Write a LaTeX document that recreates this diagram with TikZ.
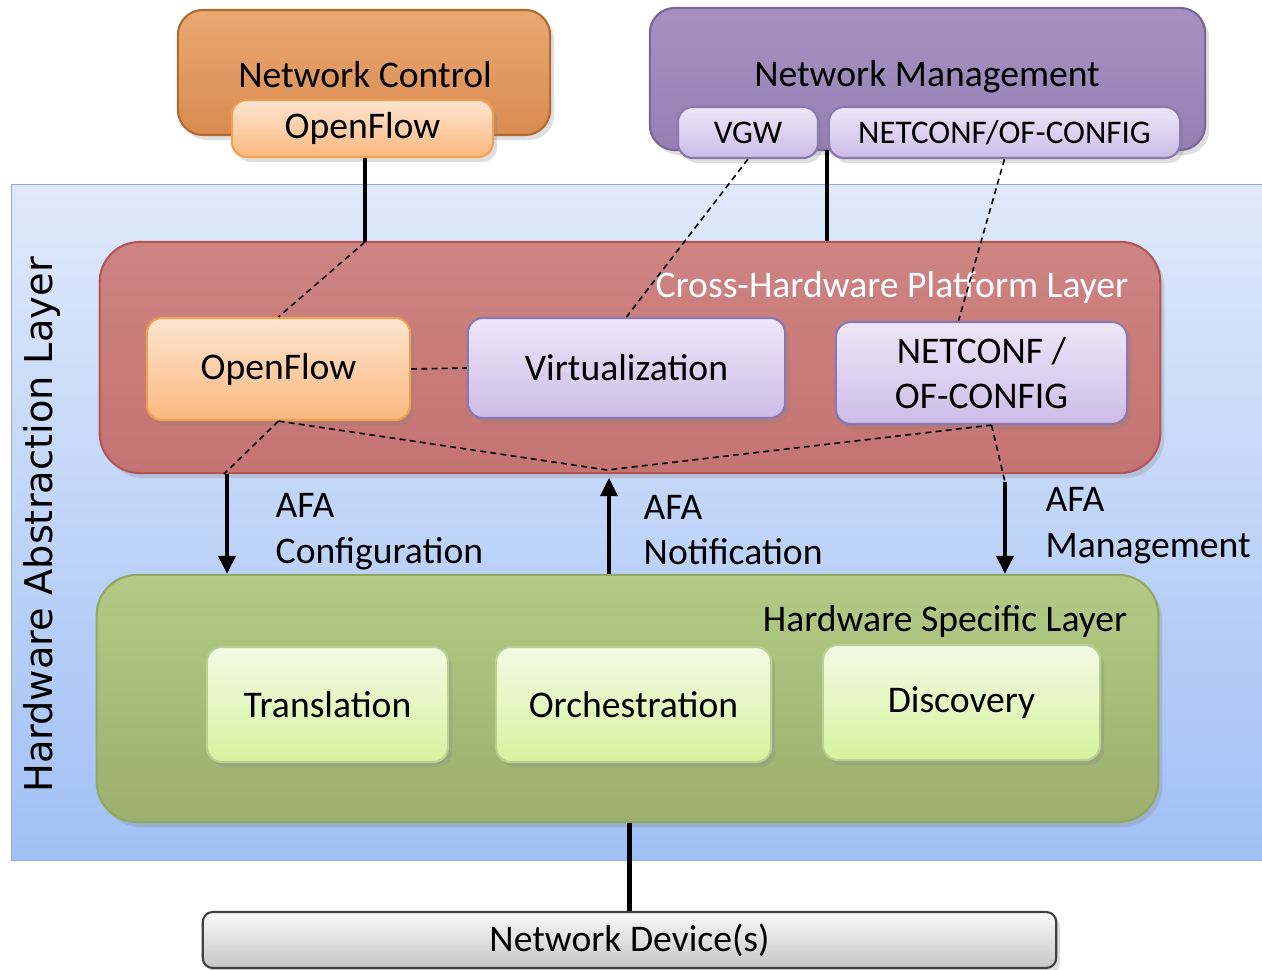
\documentclass[tikz,border=0pt]{standalone}
\usepackage{fontspec}
\setmainfont{Carlito}
\newfontfamily\halfont{DejaVu Sans}
\usetikzlibrary{arrows.meta,shadows}

\definecolor{halTop}{HTML}{DFE9FB}
\definecolor{halBot}{HTML}{A0C0F5}
\definecolor{ctrlTop}{HTML}{EAA872}
\definecolor{ctrlBot}{HTML}{D98B50}
\definecolor{ctrlLine}{HTML}{B06A30}
\definecolor{ofTop}{HTML}{FDE5D0}
\definecolor{ofBot}{HTML}{FBB87E}
\definecolor{ofLine}{HTML}{F0A050}
\definecolor{mgmtTop}{HTML}{A592C2}
\definecolor{mgmtBot}{HTML}{9580B3}
\definecolor{mgmtLine}{HTML}{7A6598}
\definecolor{lavTop}{HTML}{EEE6F8}
\definecolor{lavBot}{HTML}{CDBCE8}
\definecolor{lavLine}{HTML}{8B78B0}
\definecolor{roseTop}{HTML}{CD8482}
\definecolor{roseBot}{HTML}{C47472}
\definecolor{roseLine}{HTML}{B35555}
\definecolor{hslTop}{HTML}{B3CA86}
\definecolor{hslBot}{HTML}{9CAF6E}
\definecolor{hslLine}{HTML}{90A860}
\definecolor{lgTop}{HTML}{F3FBE5}
\definecolor{lgBot}{HTML}{D6F29E}
\definecolor{lgLine}{HTML}{B8D090}
\definecolor{devTop}{HTML}{FAFAFA}
\definecolor{devBot}{HTML}{C6C6C6}

\tikzset{
  box/.style={draw, rounded corners=0.15cm, line width=0.6pt, align=center,
    inner sep=0pt, font=\fontsize{10.7}{13}\selectfont,
    drop shadow={opacity=0.25, shadow xshift=0.04cm, shadow yshift=-0.05cm}},
  layer/.style={box, rounded corners=0.4cm},
  orangebox/.style={box, top color=ofTop, bottom color=ofBot, draw=ofLine},
  lavbox/.style={box, top color=lavTop, bottom color=lavBot, draw=lavLine},
  greenbox/.style={box, top color=lgTop, bottom color=lgBot, draw=lgLine},
  smalltext/.style={font=\fontsize{9.4}{11}\selectfont},
  conn/.style={line width=1.2pt},
  afa/.style={line width=0.9pt, -{Triangle[length=1.8mm, width=1.7mm]}},
  link/.style={line width=0.45pt, dash pattern=on 1.7pt off 1.2pt},
  afalabel/.style={anchor=west, align=left, inner sep=0pt,
    font=\fontsize{10.7}{13}\selectfont}
}

\begin{document}
\begin{tikzpicture}[x=0.01cm, y=-0.01cm]
  \useasboundingbox (0,0) rectangle (1262,970);

  \node[draw=halBot!70!gray, line width=0.3pt, top color=halTop, bottom color=halBot,
    minimum width=12.5cm, minimum height=6.75cm, inner sep=0pt] (hal) at (637,522.5) {};
  \node[rotate=90, font=\halfont\fontsize{10.9}{12}\selectfont] (hallabel) at (42,525)
    {Hardware Abstraction Layer};

  \node[layer, rounded corners=0.25cm, top color=ctrlTop, bottom color=ctrlBot, draw=ctrlLine,
    minimum width=3.72cm, minimum height=1.25cm] (netctrl) at (364,72.5) {};
  \node[font=\fontsize{10.7}{13}\selectfont, inner sep=0pt] (netctrllabel) at (365,75)
    {Network Control};
  \node[orangebox, minimum width=2.61cm, minimum height=0.57cm] (oftop) at (362.5,128.5) {OpenFlow};

  \node[layer, rounded corners=0.25cm, top color=mgmtTop, bottom color=mgmtBot, draw=mgmtLine,
    minimum width=5.55cm, minimum height=1.42cm] (netmgmt) at (927.5,79) {};
  \node[font=\fontsize{10.7}{13}\selectfont, inner sep=0pt] (netmgmtlabel) at (927,77)
    {Network Management};
  \node[lavbox, smalltext, minimum width=1.40cm, minimum height=0.51cm] (vgw) at (748,132.5) {VGW};
  \node[lavbox, smalltext, minimum width=3.51cm, minimum height=0.51cm] (nctop) at (1004.5,132.5)
    {NETCONF/OF-CONFIG};

  \node[layer, top color=roseTop, bottom color=roseBot, draw=roseLine,
    minimum width=10.6cm, minimum height=2.31cm] (chpl) at (630,357.5) {};
  \node[anchor=east, text=white, font=\fontsize{10.7}{13}\selectfont, inner sep=0pt] (chpllabel)
    at (1129,287) {Cross-Hardware Platform Layer};

  \node[orangebox, minimum width=2.63cm, minimum height=1.02cm] (of) at (278.5,369) {OpenFlow};
  \node[lavbox, minimum width=3.17cm, minimum height=1.0cm] (virt) at (626.5,368) {Virtualization};
  \node[lavbox, minimum width=2.91cm, minimum height=1.02cm] (nc) at (981.5,373)
    {NETCONF /\\OF-CONFIG};

  \node[layer, top color=hslTop, bottom color=hslBot, draw=hslLine,
    minimum width=10.61cm, minimum height=2.47cm] (hsl) at (627.5,698.5) {};
  \node[anchor=east, font=\fontsize{10.7}{13}\selectfont, inner sep=0pt] (hsllabel)
    at (1128,621) {Hardware Specific Layer};

  \node[greenbox, minimum width=2.41cm, minimum height=1.15cm] (trans) at (327.5,704.5) {Translation};
  \node[greenbox, minimum width=2.75cm, minimum height=1.15cm] (orch) at (633.5,704.5) {Orchestration};
  \node[greenbox, minimum width=2.77cm, minimum height=1.15cm] (disc) at (961.5,702.5) {Discovery};

  \node[box, rounded corners=0.1cm, top color=devTop, bottom color=devBot, draw=black!75,
    drop shadow={opacity=0}, minimum width=8.53cm, minimum height=0.56cm] (dev) at (629.5,940)
    {Network Device(s)};

  \coordinate (ofjoin) at (365,242);
  \coordinate (mgmtjoin) at (827,150);
  \coordinate (notif) at (607,470);
  \coordinate (cfgtop) at (224,474);
  \coordinate (mgmttop) at (1005,482);

  \draw[conn] (oftop.south -| ofjoin) -- (ofjoin);
  \draw[conn] (mgmtjoin) -- (mgmtjoin |- chpl.north);

  \draw[link] (ofjoin) -- (of.north);
  \draw[link] (vgw.south) -- (virt.north);
  \draw[link] (nctop.south) -- ([xshift=-0.23cm]nc.north);
  \draw[link] (of.east) -- (virt.west);
  \draw[link] (of.south) -- (notif) -- ([xshift=0.1cm]nc.south);
  \draw[link] ([xshift=0.1cm]nc.south) -- (mgmttop);
  \draw[link] (of.south) -- (cfgtop);

  \draw[afa] ([xshift=0.03cm]cfgtop) -- ([xshift=0.03cm]cfgtop |- hsl.north);
  \draw[afa] ([xshift=0.02cm]notif |- hsl.north) -- ([xshift=0.02cm,yshift=-0.08cm]notif);
  \draw[afa] (mgmttop) -- (mgmttop |- hsl.north);

  \node[afalabel] (cfglabel) at (275,532) {AFA\\Configuration};
  \node[afalabel] (notiflabel) at (643,530) {AFA\\Notification};
  \node[afalabel] (mgmtlabel) at (1045,526) {AFA\\Management};

  \draw[conn] (dev.north |- hsl.south) -- (dev.north);
\end{tikzpicture}
\end{document}
